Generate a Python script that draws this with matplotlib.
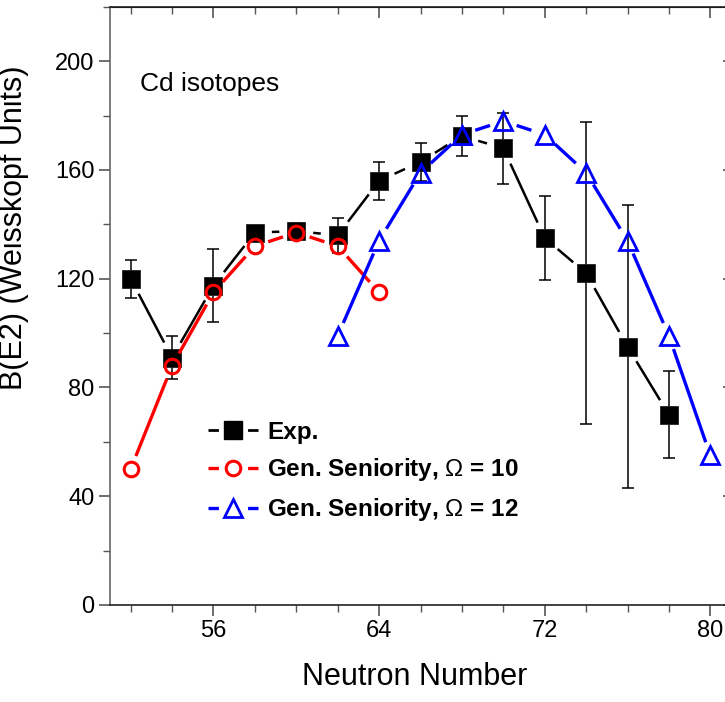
import numpy as np
import matplotlib
matplotlib.use("Agg")
import matplotlib.pyplot as plt
from matplotlib.ticker import MultipleLocator
from matplotlib.lines import Line2D

plt.rcParams["font.family"] = "Liberation Sans"
plt.rcParams["mathtext.fontset"] = "custom"
plt.rcParams["mathtext.rm"] = "Liberation Sans"
plt.rcParams["mathtext.bf"] = "Liberation Sans:bold"
plt.rcParams["lines.scale_dashes"] = False

# measured B(E2) values for Cd isotopes
n_exp = [52, 54, 56, 58, 60, 62, 64, 66, 68, 70, 72, 74, 76, 78]
be2_exp = [120, 91, 117.5, 137, 137.5, 136, 156, 163, 172.5, 168, 135, 122, 95, 70]
err_exp = [7, 8, 13.5, 2, 3, 6.5, 7, 7, 7.5, 13, 15.5, 55.5, 52, 16]

# generalized seniority, Omega = 10
n_gs10 = [52, 54, 56, 58, 60, 62, 64]
be2_gs10 = [50, 88, 115, 132, 137, 132, 115]

# generalized seniority, Omega = 12
n_gs12 = [62, 64, 66, 68, 70, 72, 74, 76, 78, 80]
be2_gs12 = [99, 134, 159, 173, 178, 173, 159, 134, 99, 55]

fig = plt.figure(figsize=(7.25, 7.02), dpi=100)
ax = fig.add_axes([0.1517, 0.1382, 0.8566, 0.852])
ax.set_xlim(51, 81)
ax.set_ylim(0, 220)


def gapped_line(x, y, gap, **kw):
    # Origin-style line: each segment stops short of the markers
    pts = ax.transData.transform(np.column_stack([x, y]))
    inv = ax.transData.inverted()
    for p, q in zip(pts[:-1], pts[1:]):
        d = q - p
        u = d / np.hypot(*d)
        seg = inv.transform([p + u * gap, q - u * gap])
        ax.plot(seg[:, 0], seg[:, 1], solid_capstyle="butt", **kw)


gapped_line(n_exp, be2_exp, 17, color="black", lw=1.8, zorder=2)
ax.errorbar(n_exp, be2_exp, yerr=err_exp, fmt="none", ecolor="black",
            elinewidth=1.1, capsize=4, capthick=1.1, zorder=3)
ax.plot(n_exp, be2_exp, ls="none", marker="s", ms=13, mfc="black",
        mec="#222222", mew=0.6, zorder=4)

gapped_line(n_gs10, be2_gs10, 14, color="red", lw=2.4, zorder=5)
ax.plot(n_gs10, be2_gs10, ls="none", marker="o", ms=10.5, mfc="none",
        mec="red", mew=2.2, zorder=6)

gapped_line(n_gs12, be2_gs12, 14, color="blue", lw=2.4, zorder=7)
ax.plot(n_gs12, be2_gs12, ls="none", marker="^", ms=12.5, mfc="none",
        mec="blue", mew=2.0, zorder=8)

# ticks: outward on bottom/left, inward mirrors on top/right
ax.xaxis.set_major_locator(MultipleLocator(8))
ax.xaxis.set_minor_locator(MultipleLocator(2))
ax.yaxis.set_major_locator(MultipleLocator(40))
ax.yaxis.set_minor_locator(MultipleLocator(20))
ax.tick_params(which="major", direction="out", length=8, width=1.2,
               color="#555555", labelsize=17, pad=3)
ax.tick_params(which="minor", direction="out", length=5, width=1.0,
               color="#555555")
for side in ["top", "right", "bottom"]:
    ax.spines[side].set_color("#222222")
    ax.spines[side].set_linewidth(1.2)
ax.spines["left"].set_color("#666666")
ax.spines["left"].set_linewidth(1.2)

top = ax.secondary_xaxis("top")
top.xaxis.set_major_locator(MultipleLocator(8))
top.xaxis.set_minor_locator(MultipleLocator(2))
top.tick_params(which="major", direction="in", length=8, width=1.2,
                color="#555555", labeltop=False)
top.tick_params(which="minor", direction="in", length=5, width=1.0,
                color="#555555")
right = ax.secondary_yaxis("right")
right.yaxis.set_major_locator(MultipleLocator(40))
right.yaxis.set_minor_locator(MultipleLocator(20))
right.tick_params(which="major", direction="in", length=6, width=1.2,
                  color="#555555", labelright=False)
right.tick_params(which="minor", direction="in", length=3, width=1.0,
                  color="#555555")

ax.set_xlabel("Neutron Number", fontsize=22)
ax.set_ylabel("B(E2) (Weisskopf Units)", fontsize=22)
ax.xaxis.set_label_coords(0.49, -0.095)
ax.yaxis.set_label_coords(-0.13, 0.63)

ax.text(0.048, 0.871, "Cd isotopes", transform=ax.transAxes, fontsize=19,
        va="center", ha="left")


# legend handles: short line pieces with a gap around the marker
def handle(color, lw, **mk):
    ln = Line2D([], [], color=color, lw=lw, dashes=(7.5, 21))
    m = Line2D([], [], ls="none", color=color, **mk)
    return (ln, m)


handles = [
    handle("black", 2.0, marker="s", ms=13, mfc="black", mec="black"),
    handle("red", 2.4, marker="o", ms=10.5, mfc="none", mec="red", mew=2.2),
    handle("blue", 2.4, marker="^", ms=12.5, mfc="none", mec="blue", mew=2.0),
]
labels = [
    "Exp.",
    r"Gen. Seniority, $\mathrm{Ω}$ = 10",
    r"Gen. Seniority, $\mathrm{Ω}$ = 12",
]
ax.legend(handles, labels, loc="upper left", bbox_to_anchor=(0.158, 0.308),
          frameon=False, prop={"size": 17.5, "weight": "bold"},
          handlelength=2.05, handletextpad=0.37,
          labelspacing=0.52, borderpad=0, borderaxespad=0, numpoints=1)

fig.savefig("out.png", dpi=100)
